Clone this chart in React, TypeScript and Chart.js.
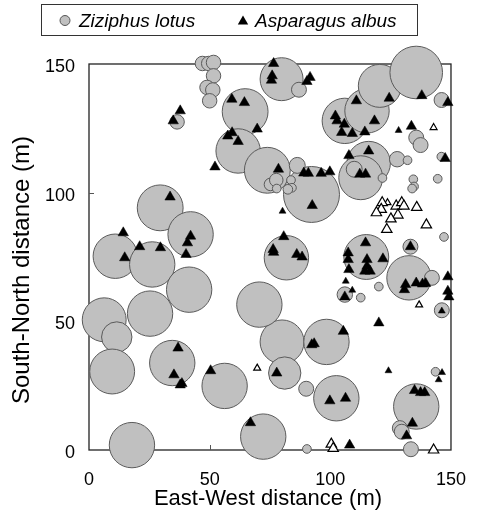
import React, { useEffect, useRef } from "react";
import { Chart, registerables } from "chart.js";

Chart.register(...registerables);

// Ziziphus lotus shrubs: centre (m) and crown radius (m)
const zizX = [47.0, 49.6, 51.6, 51.6, 48.9, 51.3, 50.0, 36.5, 64.7, 61.8, 73.9, 79.8, 87.0, 29.5, 42.1, 106.0, 115.2, 120.5, 135.6, 146.1, 135.6, 137.4, 115.9, 112.6, 109.9, 127.7, 132.0, 121.6, 134.4, 134.7, 133.9, 144.5, 146.0, 147.1, 133.2, 92.2, 86.3, 75.2, 77.6, 77.8, 83.7, 84.1, 82.4, 81.8, 114.9, 132.6, 142.1, 146.2, 106.0, 112.6, 120.1, 80.0, 98.4, 81.1, 90.0, 102.5, 135.6, 128.8, 129.6, 143.6, 90.3, 133.4, 10.9, 26.2, 41.5, 25.3, 6.3, 11.5, 9.6, 34.5, 56.2, 70.6, 17.8, 72.2];
const zizY = [150.2, 150.2, 150.6, 145.4, 140.9, 139.9, 135.7, 127.5, 131.5, 116.2, 108.7, 144.1, 140.0, 94.1, 83.8, 127.9, 131.8, 141.5, 146.7, 136.0, 121.4, 118.5, 111.5, 105.8, 109.1, 113.0, 112.6, 105.7, 105.2, 102.4, 101.6, 105.4, 114.0, 82.8, 79.0, 99.3, 110.6, 103.2, 104.9, 101.6, 104.9, 101.9, 101.3, 74.7, 75.0, 66.9, 66.9, 54.3, 60.4, 59.2, 63.5, 42.0, 42.0, 29.9, 23.8, 20.1, 16.9, 8.5, 7.1, 30.4, 0.4, 0.3, 75.3, 72.1, 62.3, 53.0, 50.6, 43.9, 30.5, 33.8, 24.9, 56.5, 1.9, 5.2];
const zizCrown = [3.0, 3.0, 3.0, 3.0, 3.0, 3.0, 3.0, 3.0, 9.5, 9.2, 9.5, 8.9, 3.1, 9.5, 9.4, 9.4, 9.2, 8.9, 10.9, 3.1, 3.1, 3.1, 9.0, 9.1, 3.3, 3.2, 1.8, 1.8, 1.8, 1.8, 1.8, 1.8, 1.8, 1.8, 3.1, 11.6, 3.3, 2.6, 2.8, 1.8, 1.8, 1.8, 2.0, 9.2, 9.3, 9.2, 3.1, 3.1, 3.2, 1.8, 1.8, 9.1, 9.4, 6.7, 3.1, 9.4, 9.4, 3.1, 3.1, 1.8, 1.8, 3.1, 9.2, 9.4, 9.4, 9.4, 9.1, 6.3, 9.3, 9.4, 9.4, 9.4, 9.4, 9.4];

// Asparagus albus: large live plants
const aspX = [37.8, 34.9, 59.2, 64.4, 69.7, 57.5, 59.3, 61.8, 52.2, 33.6, 42.1, 40.8, 14.2, 76.5, 75.9, 75.6, 91.6, 90.3, 102.1, 102.8, 105.8, 104.7, 109.1, 114.3, 110.8, 118.3, 124.4, 137.9, 148.7, 133.6, 115.9, 107.7, 112.2, 114.6, 147.6, 133.2, 89.0, 90.9, 96.2, 99.8, 92.5, 78.5, 80.7, 76.3, 76.5, 86.1, 88.3, 114.6, 107.4, 107.4, 107.7, 115.2, 115.2, 114.3, 116.5, 121.8, 130.7, 131.2, 135.6, 138.2, 139.5, 148.7, 148.7, 149.1, 106.0, 120.1, 105.4, 92.3, 93.3, 77.8, 99.8, 106.3, 134.9, 137.4, 139.1, 134.0, 131.6, 108.0, 14.8, 21.0, 29.6, 40.2, 36.9, 35.2, 37.8, 38.5, 50.4, 66.9];
const aspY = [131.8, 127.9, 136.3, 135.0, 124.7, 122.0, 123.3, 119.9, 110.0, 98.3, 83.1, 80.5, 84.4, 150.2, 145.4, 143.7, 144.8, 143.2, 129.8, 127.9, 126.6, 123.4, 123.0, 123.6, 135.7, 127.9, 136.7, 137.7, 135.0, 125.8, 116.2, 114.4, 107.2, 107.2, 113.3, 79.0, 107.6, 107.5, 107.5, 108.1, 95.0, 109.1, 82.9, 77.9, 76.8, 76.0, 75.0, 80.5, 76.6, 74.0, 70.1, 74.0, 71.4, 69.5, 69.5, 74.3, 62.3, 64.3, 64.9, 64.5, 64.7, 67.3, 61.7, 59.5, 59.5, 49.4, 46.1, 40.9, 41.3, 29.9, 19.1, 20.1, 23.1, 22.3, 22.3, 10.4, 5.5, 1.9, 74.7, 79.0, 78.6, 76.0, 39.6, 29.2, 25.3, 25.8, 30.8, 10.6];
// Asparagus albus: small live plants
const aspSmallX = [128.3, 80.2, 106.4, 109.1, 124.1, 146.3, 144.9, 146.2];
const aspSmallY = [124.2, 92.8, 65.6, 62.1, 30.8, 30.1, 27.3, 54.0];
// Asparagus albus: open symbols (large)
const aspOpenX = [121.5, 121.1, 119.1, 127.3, 129.6, 130.5, 135.8, 128.0, 125.1, 123.4, 139.8, 100.4, 101.2, 142.8];
const aspOpenY = [96.1, 93.5, 92.2, 94.8, 96.1, 94.8, 94.3, 91.3, 89.8, 85.7, 87.5, 2.3, 0.6, 0.0];
// Asparagus albus: open symbols (small)
const aspOpenSmallX = [123.7, 142.8, 136.8, 69.7];
const aspOpenSmallY = [96.1, 125.3, 56.4, 31.8];

const axisMin = 0;
const axisMax = 150;
const tickStep = 50;
const innerTicks = [50, 100];
const legendLabels = ["Ziziphus lotus", "Asparagus albus"];
const xTitle = "East-West distance (m)";
const yTitle = "South-North distance (m)";

const FONT = "'Liberation Sans', Arial, Helvetica, sans-serif";

const pts = (xs: number[], ys: number[]) => xs.map((x, i) => ({ x, y: ys[i] }));

const framePlugin = {
  id: "frame",
  beforeDatasetsDraw(chart: any) {
    const { ctx, chartArea } = chart;
    const xs = chart.scales.x;
    const ys = chart.scales.y;
    ctx.save();
    ctx.strokeStyle = "#222";
    ctx.lineWidth = 1.3;
    ctx.strokeRect(chartArea.left, chartArea.top, chartArea.right - chartArea.left, chartArea.bottom - chartArea.top);
    ctx.lineWidth = 1;
    ctx.strokeStyle = "#555";
    ctx.beginPath();
    innerTicks.forEach((v) => {
      const px = Math.round(xs.getPixelForValue(v)) + 0.5;
      ctx.moveTo(px, chartArea.bottom);
      ctx.lineTo(px, chartArea.bottom - 5);
      const py = Math.round(ys.getPixelForValue(v)) + 0.5;
      ctx.moveTo(chartArea.left, py);
      ctx.lineTo(chartArea.left + 5, py);
    });
    ctx.stroke();
    ctx.restore();
  },
  afterDraw(chart: any) {
    const { ctx, chartArea } = chart;
    ctx.save();
    // axis titles
    ctx.fillStyle = "#000";
    ctx.font = `22px ${FONT}`;
    ctx.textAlign = "center";
    ctx.textBaseline = "alphabetic";
    ctx.fillText(xTitle, (chartArea.left + chartArea.right) / 2 - 2, 505);
    ctx.font = `24px ${FONT}`;
    ctx.translate(29, 270);
    ctx.rotate(-Math.PI / 2);
    ctx.fillText(yTitle, 0, 0);
    ctx.restore();

    // legend
    ctx.save();
    ctx.strokeStyle = "#333";
    ctx.lineWidth = 1;
    ctx.strokeRect(41.5, 4.5, 376, 31);
    ctx.beginPath();
    ctx.arc(65, 20.5, 5, 0, Math.PI * 2);
    ctx.fillStyle = "#c0c0c0";
    ctx.fill();
    ctx.strokeStyle = "#555";
    ctx.stroke();
    ctx.beginPath();
    const tr = 6;
    ctx.moveTo(243, 21.5 - tr);
    ctx.lineTo(243 + tr * 0.866, 21.5 + tr / 2);
    ctx.lineTo(243 - tr * 0.866, 21.5 + tr / 2);
    ctx.closePath();
    ctx.fillStyle = "#000";
    ctx.fill();
    ctx.font = `italic 19px ${FONT}`;
    ctx.textAlign = "left";
    ctx.textBaseline = "alphabetic";
    ctx.fillText(legendLabels[0], 79, 27);
    ctx.fillText(legendLabels[1], 255, 27);
    ctx.restore();
  },
};

export default function App() {
  const ref = useRef<HTMLCanvasElement | null>(null);
  useEffect(() => {
    if (!ref.current) return;
    const crownPx = (ctx: any) => {
      const s = ctx.chart.scales.x;
      const r = zizCrown[ctx.dataIndex] ?? 0;
      return Math.abs(s.getPixelForValue(r) - s.getPixelForValue(0));
    };
    const chart = new Chart(ref.current, {
      type: "scatter",
      data: {
        datasets: [
          {
            label: legendLabels[1],
            data: pts(aspX, aspY),
            pointStyle: "triangle",
            pointRadius: 6,
            backgroundColor: "#000",
            borderColor: "#000",
            borderWidth: 0.5,
            clip: false,
            order: 1,
          },
          {
            label: legendLabels[1] + " (small)",
            data: pts(aspSmallX, aspSmallY),
            pointStyle: "triangle",
            pointRadius: 4,
            backgroundColor: "#000",
            borderColor: "#000",
            borderWidth: 0.5,
            clip: false,
            order: 1,
          },
          {
            label: legendLabels[1] + " (open)",
            data: pts(aspOpenX, aspOpenY),
            pointStyle: "triangle",
            pointRadius: 6,
            backgroundColor: "#fff",
            borderColor: "#000",
            borderWidth: 1.2,
            clip: false,
            order: 1,
          },
          {
            label: legendLabels[1] + " (open small)",
            data: pts(aspOpenSmallX, aspOpenSmallY),
            pointStyle: "triangle",
            pointRadius: 4,
            backgroundColor: "#fff",
            borderColor: "#000",
            borderWidth: 1.2,
            clip: false,
            order: 1,
          },
          {
            label: legendLabels[0],
            data: pts(zizX, zizY),
            pointStyle: "circle",
            pointRadius: crownPx,
            backgroundColor: "#c0c0c0",
            borderColor: "#5a5a5a",
            borderWidth: 1,
            clip: false,
            order: 2,
          },
        ],
      },
      options: {
        animation: false,
        responsive: false,
        events: [],
        layout: { padding: { top: 64, right: 16, left: 0, bottom: 0 } },
        plugins: { legend: { display: false }, tooltip: { enabled: false } },
        scales: {
          x: {
            type: "linear",
            min: axisMin,
            max: axisMax,
            grid: { display: false, drawTicks: false },
            border: { display: false },
            ticks: { stepSize: tickStep, color: "#000", font: { family: FONT, size: 18 }, padding: 19 },
            afterFit: (s: any) => { s.height = 66; },
          },
          y: {
            type: "linear",
            min: axisMin,
            max: axisMax,
            grid: { display: false, drawTicks: false },
            border: { display: false },
            ticks: { stepSize: tickStep, color: "#000", font: { family: FONT, size: 18 }, padding: 14, labelOffset: 3 },
            afterFit: (s: any) => { s.width = 89; },
          },
        },
      },
      plugins: [framePlugin],
    });
    return () => chart.destroy();
  }, []);
  return (
    <div style={{ position: "fixed", left: 0, top: 0, width: 485, height: 516, background: "#fff" }}>
      <canvas ref={ref} width={485} height={516} style={{ display: "block" }} />
    </div>
  );
}
